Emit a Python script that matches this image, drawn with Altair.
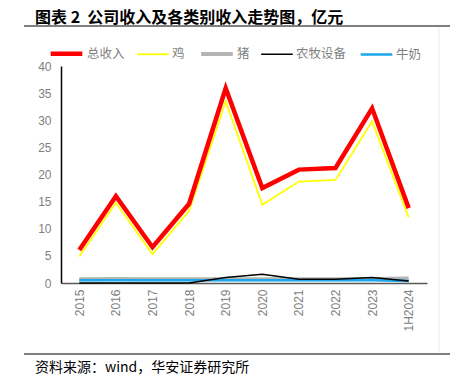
import altair as alt
import pandas as pd

years = ["2015", "2016", "2017", "2018", "2019", "2020", "2021", "2022", "2023", "1H2024"]
total = [6.1, 16.0, 6.6, 14.6, 35.9, 17.5, 20.9, 21.2, 32.2, 13.8]
chicken = [4.9, 14.8, 5.3, 13.3, 33.5, 14.4, 18.7, 19.0, 29.8, 12.1]
pig = [0.7, 0.75, 0.7, 0.7, 0.7, 0.7, 0.7, 0.7, 0.75, 0.85]
equip = [0.0, 0.0, 0.0, 0.0, 1.0, 1.6, 0.7, 0.7, 1.0, 0.35]
milk = [0.5, 0.5, 0.5, 0.5, 0.5, 0.5, 0.5, 0.5, 0.5, 0.35]

series_names = ["总收入", "鸡", "猪", "农牧设备", "牛奶"]
series_colors = ["#ff0000", "#ffff00", "#b4b4b4", "#000000", "#1aa7ec"]
series_widths = [4.5, 1.8, 4, 1.5, 2.5]

# draw order: yellow, gray, blue, black, red (red on top)
draw_order = [("鸡", chicken), ("猪", pig), ("牛奶", milk), ("农牧设备", equip), ("总收入", total)]
rows = []
for name, vals in draw_order:
    for y, v in zip(years, vals):
        rows.append({"year": y, "value": v, "series": name})
df = pd.DataFrame(rows)

W, H = 366, 217
PL, PT = 53, 58
PR = 442 - PL - W
PB = 373 - PT - H

legend_props = dict(title=None, orient="none", legendX=-13, legendY=-31,
                    direction="horizontal", symbolType="stroke",
                    symbolSize=1000, labelFontSize=12.5,
                    labelColor="#7f7f7f", labelFont="Noto Sans CJK SC",
                    columnPadding=8, labelOffset=2)

lines = alt.Chart(df).mark_line(strokeCap="butt", strokeJoin="miter").encode(
    x=alt.X("year:N", sort=years,
            scale=alt.Scale(type="point", padding=0.5),
            axis=alt.Axis(title=None, labelAngle=270, ticks=False, grid=False,
                          domainColor="#595959", domainWidth=1.5,
                          labelColor="#808080", labelFontSize=12,
                          labelFont="Liberation Sans", labelPadding=6)),
    y=alt.Y("value:Q", scale=alt.Scale(domain=[0, 40], nice=False),
            axis=alt.Axis(title=None, values=list(range(0, 41, 5)), ticks=False,
                          grid=False, domainColor="#000000", domainWidth=1.5,
                          labelColor="#808080", labelFontSize=12,
                          labelFont="Liberation Sans", labelPadding=10)),
    color=alt.Color("series:N",
                    scale=alt.Scale(domain=series_names, range=series_colors),
                    legend=alt.Legend(**legend_props)),
    strokeWidth=alt.StrokeWidth("series:N",
                                scale=alt.Scale(type="ordinal", domain=series_names,
                                                range=series_widths),
                                legend=alt.Legend(**legend_props)),
)

title = alt.Chart().mark_text(
    text="图表 2\u00a0\u00a0公司收入及各类别收入走势图，亿元", align="left", baseline="alphabetic",
    font="Noto Sans CJK SC", fontSize=16, fontWeight="bold", color="#000000"
).encode(x=alt.value(-26), y=alt.value(-43))

top_rule = alt.Chart().mark_rule(color="#000000", strokeWidth=1).encode(
    x=alt.value(-37), x2=alt.value(389), y=alt.value(-40))
bottom_rule = alt.Chart().mark_rule(color="#000000", strokeWidth=1).encode(
    x=alt.value(-37), x2=alt.value(389), y=alt.value(288))
divider = alt.Chart().mark_rule(color="#ececec", strokeWidth=1).encode(
    x=alt.value(378), y=alt.value(-39), y2=alt.value(287))

source = alt.Chart().mark_text(
    text="资料来源：wind，华安证券研究所", align="left", baseline="alphabetic",
    font="Noto Sans CJK SC", fontSize=14, color="#000000"
).encode(x=alt.value(-26), y=alt.value(306))

chart = alt.layer(divider, lines, title, top_rule, bottom_rule, source).properties(
    width=W, height=H,
    padding={"left": PL, "top": PT, "right": PR, "bottom": PB},
    autosize=alt.AutoSizeParams(type="none"),
).configure_view(stroke=None)

chart.save("out.html", embed_options={"renderer": "svg", "actions": False})
